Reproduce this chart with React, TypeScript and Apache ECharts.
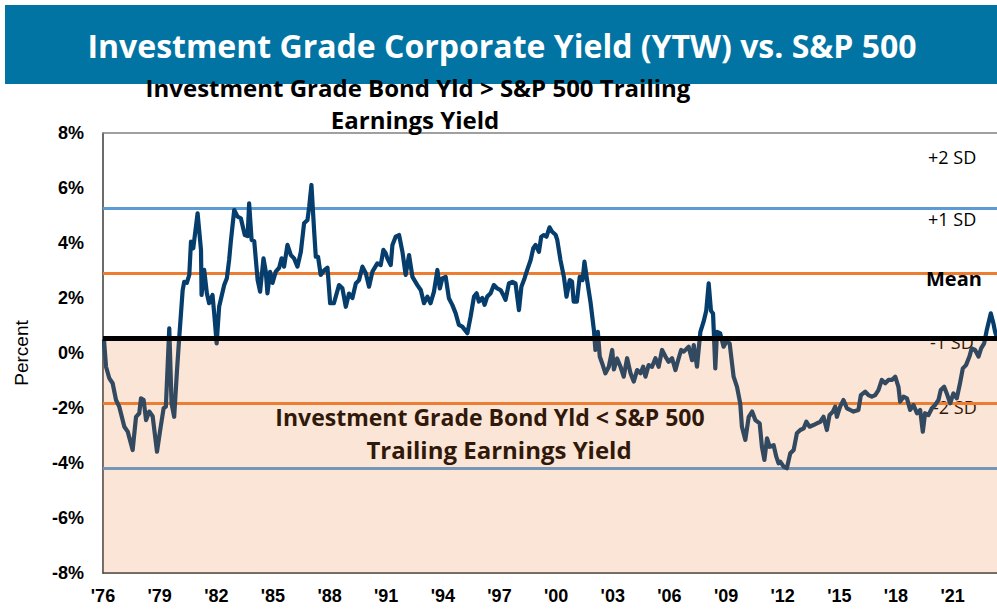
import React, { useEffect, useRef } from "react";
import * as echarts from "echarts";

const dates: number[] = [
  1976.05, 1976.16, 1976.33, 1976.51, 1976.69, 1976.86, 1977.13, 1977.31, 1977.57, 1977.75,
  1977.92, 1978.01, 1978.15, 1978.28, 1978.45, 1978.63, 1978.86, 1979.03, 1979.21, 1979.33,
  1979.51, 1979.63, 1979.77, 1979.92, 1980.04, 1980.22, 1980.3, 1980.44, 1980.57, 1980.66,
  1980.78, 1981.01, 1981.19, 1981.22, 1981.36, 1981.5, 1981.62, 1981.8, 1981.89, 1982.02,
  1982.15, 1982.42, 1982.56, 1982.68, 1982.77, 1982.95, 1983.13, 1983.3, 1983.51, 1983.66,
  1983.74, 1983.87, 1984.01, 1984.19, 1984.32, 1984.5, 1984.62, 1984.71, 1984.85, 1984.98,
  1985.15, 1985.33, 1985.46, 1985.59, 1985.77, 1985.95, 1986.12, 1986.3, 1986.48, 1986.65,
  1986.83, 1986.92, 1987.04, 1987.18, 1987.27, 1987.39, 1987.53, 1987.71, 1987.89, 1988.03,
  1988.23, 1988.5, 1988.68, 1988.86, 1989.03, 1989.21, 1989.39, 1989.56, 1989.74, 1989.92,
  1990.09, 1990.27, 1990.53, 1990.71, 1990.85, 1990.97, 1991.06, 1991.24, 1991.33, 1991.5,
  1991.68, 1991.86, 1992.03, 1992.21, 1992.39, 1992.65, 1992.83, 1993.0, 1993.18, 1993.35,
  1993.53, 1993.71, 1993.84, 1993.97, 1994.15, 1994.32, 1994.5, 1994.68, 1994.85, 1995.03,
  1995.3, 1995.47, 1995.65, 1995.79, 1995.91, 1996.09, 1996.21, 1996.35, 1996.53, 1996.7,
  1996.88, 1997.06, 1997.2, 1997.32, 1997.5, 1997.68, 1997.85, 1998.03, 1998.16, 1998.33,
  1998.47, 1998.65, 1998.79, 1998.91, 1999.09, 1999.21, 1999.35, 1999.49, 1999.65, 1999.79,
  1999.97, 2000.06, 2000.23, 2000.41, 2000.55, 2000.72, 2000.84, 2000.93, 2001.1, 2001.25,
  2001.4, 2001.5, 2001.64, 2001.82, 2002.0, 2002.08, 2002.21, 2002.31, 2002.44, 2002.61,
  2002.79, 2002.97, 2003.06, 2003.23, 2003.41, 2003.58, 2003.76, 2003.94, 2004.11, 2004.29,
  2004.47, 2004.61, 2004.73, 2004.9, 2005.08, 2005.26, 2005.43, 2005.61, 2005.79, 2005.96,
  2006.14, 2006.32, 2006.49, 2006.62, 2006.76, 2007.02, 2007.2, 2007.29, 2007.46, 2007.64,
  2007.81, 2007.95, 2008.08, 2008.2, 2008.31, 2008.43, 2008.52, 2008.69, 2008.87, 2009.01,
  2009.19, 2009.4, 2009.58, 2009.75, 2009.84, 2010.02, 2010.2, 2010.38, 2010.55, 2010.78,
  2010.9, 2011.03, 2011.17, 2011.31, 2011.52, 2011.66, 2011.78, 2011.87, 2012.05, 2012.22,
  2012.4, 2012.58, 2012.75, 2012.93, 2013.11, 2013.25, 2013.42, 2013.63, 2013.81, 2013.99,
  2014.16, 2014.34, 2014.48, 2014.66, 2014.78, 2014.87, 2015.04, 2015.22, 2015.4, 2015.57,
  2015.75, 2016.01, 2016.14, 2016.37, 2016.54, 2016.72, 2016.9, 2017.07, 2017.25, 2017.43,
  2017.6, 2017.78, 2017.96, 2018.13, 2018.22, 2018.4, 2018.58, 2018.75, 2018.93, 2019.11,
  2019.28, 2019.42, 2019.54, 2019.72, 2019.9, 2020.07, 2020.25, 2020.37, 2020.55, 2020.69,
  2020.87, 2021.04, 2021.22, 2021.39, 2021.54, 2021.71, 2021.89, 2022.01, 2022.19, 2022.37,
  2022.51, 2022.67, 2022.81, 2023.02, 2023.16, 2023.25, 2023.33,
];

const spread: number[] = [
  0.5, -0.5, -0.91, -1.1, -1.71, -1.95, -2.68, -2.86, -3.53, -2.32,
  -2.19, -1.65, -1.7, -2.44, -2.13, -2.3, -3.59, -2.8, -2.01, -1.95,
  0.9, -1.83, -2.32, -0.62, 0.59, 2.29, 2.59, 2.55, 2.84, 4.05,
  3.81, 5.08, 3.75, 2.11, 3.02, 2.17, 1.81, 2.11, 1.44, 0.35,
  1.68, 2.47, 2.72, 3.38, 4.05, 5.2, 4.96, 4.9, 4.29, 4.25,
  5.44, 4.11, 4.07, 2.65, 2.23, 3.44, 2.97, 2.17, 2.95, 2.55,
  2.96, 3.1, 3.44, 3.14, 3.93, 3.56, 3.44, 3.14, 3.68, 4.72,
  4.84, 5.32, 6.11, 4.47, 3.5, 3.5, 2.84, 3.0, 3.1, 1.81,
  1.81, 2.47, 2.35, 1.68, 2.16, 2.0, 2.53, 2.65, 3.14, 2.9,
  2.41, 2.96, 3.26, 3.2, 3.75, 3.63, 3.44, 3.2, 3.93, 4.23,
  4.29, 3.68, 2.84, 3.56, 2.77, 2.47, 2.29, 1.81, 2.05, 1.81,
  2.23, 3.02, 2.35, 2.71, 2.77, 1.99, 1.75, 1.44, 1.02, 0.96,
  0.72, 1.32, 2.05, 2.17, 1.87, 2.0, 1.75, 2.05, 2.17, 2.47,
  2.35, 2.29, 2.11, 1.93, 2.53, 2.59, 2.53, 1.56, 2.41, 2.72,
  3.02, 3.38, 3.81, 3.93, 3.68, 4.23, 4.29, 4.23, 4.57, 4.41,
  4.3, 4.11, 3.38, 2.77, 2.05, 2.65, 2.6, 1.87, 1.87, 2.77,
  2.65, 3.32, 2.65, 1.85, 0.84, 0.11, 0.77, -0.13, -0.38, -0.74,
  -0.5, 0.11, -0.6, -0.2, -0.5, -0.86, -0.19, -0.74, -1.04, -0.62,
  -0.74, -0.5, -0.86, -0.44, -0.5, -0.19, -0.5, 0.11, -0.13, -0.32,
  -0.19, -0.62, -0.19, 0.11, 0.05, 0.23, -0.26, 0.29, -0.5, 0.77,
  1.14, 1.54, 2.53, 1.54, 1.44, -0.56, 0.77, 0.71, 0.23, 0.41,
  0.35, -0.86, -1.23, -1.83, -2.68, -3.16, -2.32, -2.13, -2.44, -2.56,
  -3.41, -3.89, -3.1, -3.41, -3.35, -3.77, -4.01, -3.95, -4.13, -4.19,
  -3.65, -3.53, -2.92, -2.8, -2.74, -2.5, -2.68, -2.62, -2.56, -2.5,
  -2.32, -2.8, -2.26, -2.13, -1.95, -2.32, -1.95, -1.71, -2.01, -2.07,
  -2.13, -2.07, -1.53, -1.41, -1.53, -1.59, -1.53, -1.35, -0.98, -1.1,
  -0.98, -0.98, -0.86, -1.23, -1.77, -1.59, -1.65, -2.07, -1.89, -2.19,
  -2.07, -2.86, -2.19, -2.26, -2.01, -1.89, -1.71, -1.35, -1.23, -1.47,
  -1.83, -1.47, -1.65, -1.1, -0.56, -0.44, -0.13, 0.17, 0.11, -0.13,
  0.17, 0.35, 0.84, 1.44, 1.08, 0.77, 0.6,
];

const baseYear = 1976;
const endYear = 2023.35;
const yTicks = { min: -8, max: 8, step: 2 };

const meanLevel = 0.53;
const bandLevels = [5.26, 2.9, -1.83, -4.19];
const bandColors = ["#5B9BD5", "#ED7D31", "#ED7D31", "#5B9BD5"];

const sdLabels = ["+2 SD", "+1 SD", "Mean", "-1 SD", "-2 SD"];

const titleText = "Investment Grade Corporate Yield (YTW) vs. S&P 500";
const upperNote = ["Investment Grade Bond Yld > S&P 500 Trailing", "Earnings Yield"];
const lowerNote = ["Investment Grade Bond Yld < S&P 500", "Trailing Earnings Yield"];

export default function App() {
  const ref = useRef<HTMLDivElement>(null);

  useEffect(() => {
    if (!ref.current) return;
    const chart = echarts.init(ref.current, null, { renderer: "svg" });
    const seriesData = dates.map((d, i) => [d - baseYear, spread[i]]);

    const labelFont = "'Liberation Sans Narrow', 'Arial Narrow', 'Liberation Sans', Arial, sans-serif";
    const sansFont = "'Open Sans', 'Noto Sans', sans-serif";

    const sdPos = [
      { x: 928, y: 157, bold: false, z: 10 },
      { x: 928, y: 219, bold: false, z: 10 },
      { x: 926, y: 278, bold: true, z: 10 },
      { x: 930, y: 342, bold: false, z: 0 },
      { x: 933, y: 407, bold: false, z: 0 },
    ];

    const option: any = {
      animation: false,
      grid: { left: 103, right: 0, top: 133, bottom: 36, containLabel: false },
      xAxis: {
        type: "value",
        min: 0,
        max: endYear - baseYear,
        interval: 3,
        axisLine: { show: true, onZero: false, lineStyle: { color: "#3a3a3a", width: 1.5 } },
        axisTick: { show: false },
        splitLine: { show: false },
        axisLabel: {
          showMaxLabel: false,
          margin: 14,
          fontFamily: labelFont,
          fontWeight: "bold",
          fontSize: 18,
          color: "#000",
          formatter: (v: number) => "'" + String(Math.round(baseYear + v) % 100).padStart(2, "0"),
        },
      },
      yAxis: {
        type: "value",
        min: yTicks.min,
        max: yTicks.max,
        interval: yTicks.step,
        name: "Percent",
        nameLocation: "middle",
        nameGap: 72,
        nameTextStyle: { fontFamily: "'Liberation Sans', Arial, sans-serif", fontSize: 19, color: "#000" },
        axisLine: { show: true, lineStyle: { color: "#3a3a3a", width: 1.5 } },
        axisTick: { show: false },
        splitLine: { show: false },
        axisLabel: {
          formatter: "{value}%",
          margin: 19,
          fontFamily: "'Liberation Sans', Arial, sans-serif",
          fontWeight: "bold",
          fontSize: 18,
          color: "#000",
        },
      },
      series: [
        {
          type: "line",
          data: seriesData,
          symbol: "none",
          showSymbol: false,
          z: 2,
          lineStyle: { color: "#053D6C", width: 4.2, join: "round" },
          silent: true,
        },
        {
          type: "line",
          data: [],
          silent: true,
          markLine: {
            z: 1,
            silent: true,
            symbol: "none",
            label: { show: false },
            data: bandLevels.map((v, i) => ({
              yAxis: v,
              lineStyle: { color: bandColors[i], width: 3, type: "solid" },
            })),
          },
        },
        {
          type: "line",
          data: [],
          silent: true,
          markArea: {
            z: 3,
            silent: true,
            itemStyle: { color: "rgba(237,125,49,0.2)" },
            data: [[{ yAxis: meanLevel }, { yAxis: yTicks.min }]],
          },
          markLine: {
            z: 5,
            silent: true,
            symbol: "none",
            label: { show: false },
            data: [
              { yAxis: meanLevel, lineStyle: { color: "#000", width: 5, type: "solid" } },
              { yAxis: yTicks.max, lineStyle: { color: "#808080", width: 1.5, type: "solid" } },
            ],
          },
        },
      ],
      graphic: {
        elements: [
          {
            type: "rect",
            shape: { x: 5, y: 5, width: 992, height: 79 },
            style: { fill: "#0174A3" },
            z: 10,
          },
          {
            type: "text",
            x: 502,
            y: 45,
            z: 11,
            style: {
              text: titleText,
              fill: "#fff",
              font: `bold 32px ${sansFont}`,
              textAlign: "center",
              textVerticalAlign: "middle",
            },
          },
          {
            type: "text",
            x: 418,
            y: 87,
            z: 11,
            style: {
              text: upperNote[0],
              fill: "#000",
              font: `bold 24px ${sansFont}`,
              textAlign: "center",
              textVerticalAlign: "middle",
            },
          },
          {
            type: "text",
            x: 415,
            y: 119,
            z: 11,
            style: {
              text: upperNote[1],
              fill: "#000",
              font: `bold 24px ${sansFont}`,
              textAlign: "center",
              textVerticalAlign: "middle",
            },
          },
          {
            type: "text",
            x: 490,
            y: 417,
            z: 0,
            style: {
              text: lowerNote[0],
              fill: "#000",
              font: `bold 23px ${sansFont}`,
              textAlign: "center",
              textVerticalAlign: "middle",
            },
          },
          {
            type: "text",
            x: 499,
            y: 449,
            z: 0,
            style: {
              text: lowerNote[1],
              fill: "#000",
              font: `bold 24px ${sansFont}`,
              textAlign: "center",
              textVerticalAlign: "middle",
            },
          },
          ...sdLabels.map((t, i) => ({
            type: "text",
            x: sdPos[i].x,
            y: sdPos[i].y,
            z: sdPos[i].z,
            style: {
              text: t,
              fill: "#000",
              font: sdPos[i].bold ? `bold 20px ${sansFont}` : `18px ${sansFont}`,
              textAlign: "left",
              textVerticalAlign: "middle",
            },
          })),
        ],
      },
    };

    chart.setOption(option);
    return () => chart.dispose();
  }, []);

  return (
    <div
      ref={ref}
      style={{ position: "absolute", left: 0, top: 0, width: 997, height: 609, background: "#fff" }}
    />
  );
}
